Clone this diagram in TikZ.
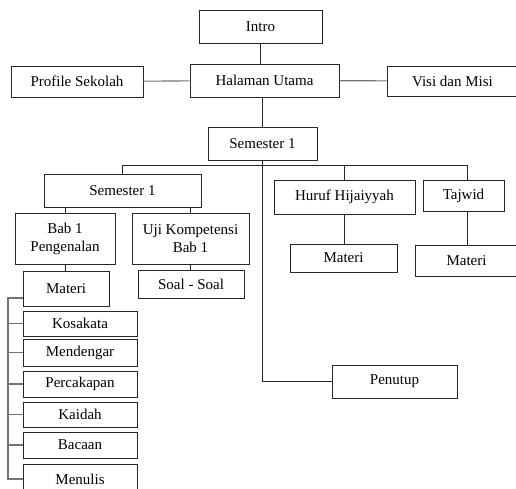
\documentclass[tikz,border=0pt]{standalone}
\usepackage{fontspec}
\setmainfont{Liberation Serif}
\usetikzlibrary{positioning}

\tikzset{
  box/.style={draw=black!85, line width=0.9pt, align=center, inner sep=1pt,
    font=\fontsize{15}{18}\selectfont},
  link/.style={draw=black!85, line width=0.8pt},
  glink/.style={draw=black!55, line width=1.1pt}
}

\begin{document}
\begin{tikzpicture}[x=1pt, y=-1pt]
\useasboundingbox (0,0) rectangle (516,488);
% top level
\node[box, minimum width=123pt, minimum height=33pt] (intro) at (260.5,26.5) {Intro};
\node[box, minimum width=149pt, minimum height=33pt] (halaman) at (264.5,80.5) {Halaman Utama};
\node[box, minimum width=132pt, minimum height=31pt] (profile) at (77,81.5) {Profile Sekolah};
\node[box, minimum width=131pt, minimum height=30pt] (visi) at (452.5,81) {Visi dan Misi};
\node[box, minimum width=109pt, minimum height=33pt] (sem) at (262.5,143.5) {Semester 1};

% second level
\node[box, minimum width=157pt, minimum height=33pt] (semb) at (122.5,190.5) {Semester 1};
\node[box, minimum width=141pt, minimum height=34pt] (huruf) at (344.5,197) {Huruf Hijaiyyah};
\node[box, minimum width=81pt, minimum height=31pt] (tajwid) at (463.5,195.5) {Tajwid};
\node[box, minimum width=107pt, minimum height=28pt] (mathuruf) at (343.5,258) {Materi};
\node[box, minimum width=103pt, minimum height=31pt] (mattajwid) at (466.5,260.5) {Materi};
\node[box, minimum width=125pt, minimum height=33pt] (penutup) at (394.5,381.5) {Penutup};

% bab 1
\node[box, minimum width=100pt, minimum height=51pt] (bab) at (65,238.5) {Bab 1\\Pengenalan};
\node[box, minimum width=117pt, minimum height=51pt] (uji) at (190.5,238.5) {Uji Kompetensi\\Bab 1};
\node[box, minimum width=86pt, minimum height=35pt] (materi) at (66,288.5) {Materi};
\node[box, minimum width=106pt, minimum height=28pt] (soal) at (191,284) {Soal - Soal};

% isi materi
\node[box, minimum width=114pt, minimum height=25pt] (kosakata) at (80,323.5) {Kosakata};
\node[box, minimum width=114pt, minimum height=27pt] (mendengar) at (80,352.5) {Mendengar};
\node[box, minimum width=114pt, minimum height=26pt] (percakapan) at (80,384) {Percakapan};
\node[box, minimum width=114pt, minimum height=25pt] (kaidah) at (80,414.5) {Kaidah};
\node[box, minimum width=114pt, minimum height=26pt] (bacaan) at (80,445) {Bacaan};
\node[box, minimum width=114pt, minimum height=30pt] (menulis) at (80,479) {Menulis};

\coordinate (busL) at (122,165);
\coordinate (busR) at (467,165);
\coordinate (lbus) at (8,298);

% connectors
\draw[link] (intro.south) -- (intro.south |- halaman.north);
\draw[link] (sem.north) -- (sem.north |- halaman.south);
\draw[glink] (profile) -- (halaman);
\draw[glink] (halaman) -- (visi);
\draw[link] (sem.south) -- (sem.south |- penutup.west) -- (penutup.west);
\draw[link] (busL |- semb.north) -- (busL) -- (busR) -- (busR |- tajwid.north);
\draw[link] (huruf.north) -- (huruf.north |- busL);
\draw[link] (huruf.south) -- (huruf.south |- mathuruf.north);
\draw[link] (busR |- tajwid.south) -- (busR |- mattajwid.north);
\draw[link] (bab.north) -- (bab.north |- semb.south);
\draw[link] (uji.north) -- (uji.north |- semb.south);
\draw[link] (bab.south) -- (bab.south |- materi.north);
\draw[link] (uji.south) -- (uji.south |- soal.north);
\draw[glink] ([yshift=-9.5pt]materi.west) -- (lbus) -- (lbus |- menulis.west) -- (menulis.west);
\foreach \n in {kosakata, mendengar, percakapan, kaidah, bacaan}
  \draw[glink] (lbus |- \n.west) -- (\n.west);
\end{tikzpicture}
\end{document}
